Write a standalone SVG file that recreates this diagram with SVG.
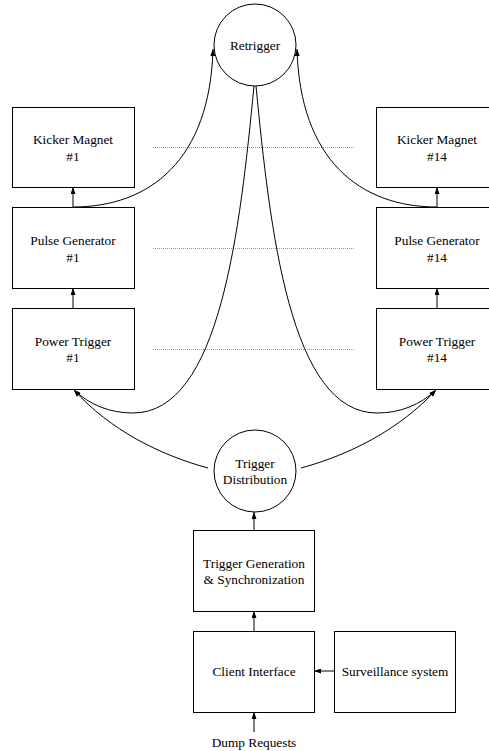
<svg xmlns="http://www.w3.org/2000/svg" width="489" height="751" viewBox="0 0 489 751" font-family="'Liberation Serif', 'Times New Roman', Times, serif" font-size="13.3">
  <defs>
    <marker id="arrow" viewBox="0 0 7 5" refX="7" refY="2.5" markerWidth="7" markerHeight="5" markerUnits="userSpaceOnUse" orient="auto">
      <path d="M0,0 L7,2.5 L0,5 z" fill="#000"/>
    </marker>
    <style>
      .box { fill: #fff; stroke: #000; stroke-width: 1; }
      .circ { fill: #fff; stroke: #000; stroke-width: 1; }
      .lbl { fill: #000; text-anchor: middle; }
      .edge { fill: none; stroke: #000; stroke-width: 1; marker-end: url(#arrow); }
      .dots { stroke: #999; stroke-width: 1; stroke-dasharray: 1 1; fill: none; }
    </style>
  </defs>
  <rect width="489" height="751" fill="#fff"/>

  <!-- dotted separators between the #1 and #14 columns -->
  <g id="ellipsis">
    <line class="dots" x1="153" y1="147.5" x2="354" y2="147.5"/>
    <line class="dots" x1="153" y1="248.5" x2="354" y2="248.5"/>
    <line class="dots" x1="153" y1="349.5" x2="354" y2="349.5"/>
  </g>

  <g id="connectors">
    <!-- column #1 chain -->
    <line class="edge" x1="73" y1="207" x2="73" y2="187"/>
    <line class="edge" x1="73" y1="308" x2="73" y2="288"/>
    <!-- column #14 chain -->
    <line class="edge" x1="437" y1="207" x2="437" y2="187"/>
    <line class="edge" x1="437" y1="308" x2="437" y2="288"/>
    <!-- pulse generators to retrigger -->
    <path class="edge" d="M73,207 C150,207 210,160 213,49"/>
    <path class="edge" d="M437,207 C360,207 300,160 297,49"/>
    <!-- retrigger back to power triggers -->
    <path class="edge" d="M254,86 C240,230 220,413 133,413 C110,413 90,405 74,390"/>
    <path class="edge" d="M256,86 C270,230 290,413 377,413 C400,413 420,405 436,390"/>
    <!-- trigger distribution to power triggers -->
    <path class="edge" d="M208,468 C160,455 110,430 74,390"/>
    <path class="edge" d="M301,468 C349,455 399,430 436,390"/>
    <!-- main trigger path -->
    <line class="edge" x1="254" y1="530" x2="254" y2="512"/>
    <line class="edge" x1="254" y1="631" x2="254" y2="611"/>
    <line class="edge" x1="334" y1="671" x2="314" y2="671"/>
    <line class="edge" x1="254" y1="732" x2="254" y2="712"/>
  </g>

  <g id="retrigger">
    <circle class="circ" cx="255" cy="45" r="41"/>
    <text class="lbl" x="255" y="50">Retrigger</text>
  </g>

  <g id="kicker1">
    <rect class="box" x="12.5" y="107.5" width="122" height="80"/>
    <text class="lbl" x="73" y="144">Kicker Magnet</text>
    <text class="lbl" x="73" y="161">#1</text>
  </g>
  <g id="pulse1">
    <rect class="box" x="12.5" y="207.5" width="122" height="81"/>
    <text class="lbl" x="73" y="244.5">Pulse Generator</text>
    <text class="lbl" x="73" y="261.5">#1</text>
  </g>
  <g id="power1">
    <rect class="box" x="12.5" y="308.5" width="122" height="81"/>
    <text class="lbl" x="73" y="345.5">Power Trigger</text>
    <text class="lbl" x="73" y="362">#1</text>
  </g>

  <g id="kicker14">
    <rect class="box" x="376.5" y="107.5" width="122" height="80"/>
    <text class="lbl" x="437" y="144">Kicker Magnet</text>
    <text class="lbl" x="437" y="161">#14</text>
  </g>
  <g id="pulse14">
    <rect class="box" x="376.5" y="207.5" width="122" height="81"/>
    <text class="lbl" x="437" y="244.5">Pulse Generator</text>
    <text class="lbl" x="437" y="261.5">#14</text>
  </g>
  <g id="power14">
    <rect class="box" x="376.5" y="308.5" width="122" height="81"/>
    <text class="lbl" x="437" y="345.5">Power Trigger</text>
    <text class="lbl" x="437" y="362">#14</text>
  </g>

  <g id="distribution">
    <circle class="circ" cx="255" cy="471" r="41"/>
    <text class="lbl" x="255" y="467.5">Trigger</text>
    <text class="lbl" x="255" y="483.5">Distribution</text>
  </g>

  <g id="generation">
    <rect class="box" x="193.5" y="530.5" width="121" height="81"/>
    <text class="lbl" x="254" y="567.5">Trigger Generation</text>
    <text class="lbl" x="254" y="583.5">&amp; Synchronization</text>
  </g>

  <g id="client">
    <rect class="box" x="193.5" y="631.5" width="121" height="81"/>
    <text class="lbl" x="254" y="675.5">Client Interface</text>
  </g>

  <g id="surveillance">
    <rect class="box" x="334.5" y="631.5" width="121" height="81"/>
    <text class="lbl" x="395" y="675.5">Surveillance system</text>
  </g>

  <g id="dump">
    <text class="lbl" x="254" y="747">Dump Requests</text>
  </g>
</svg>
